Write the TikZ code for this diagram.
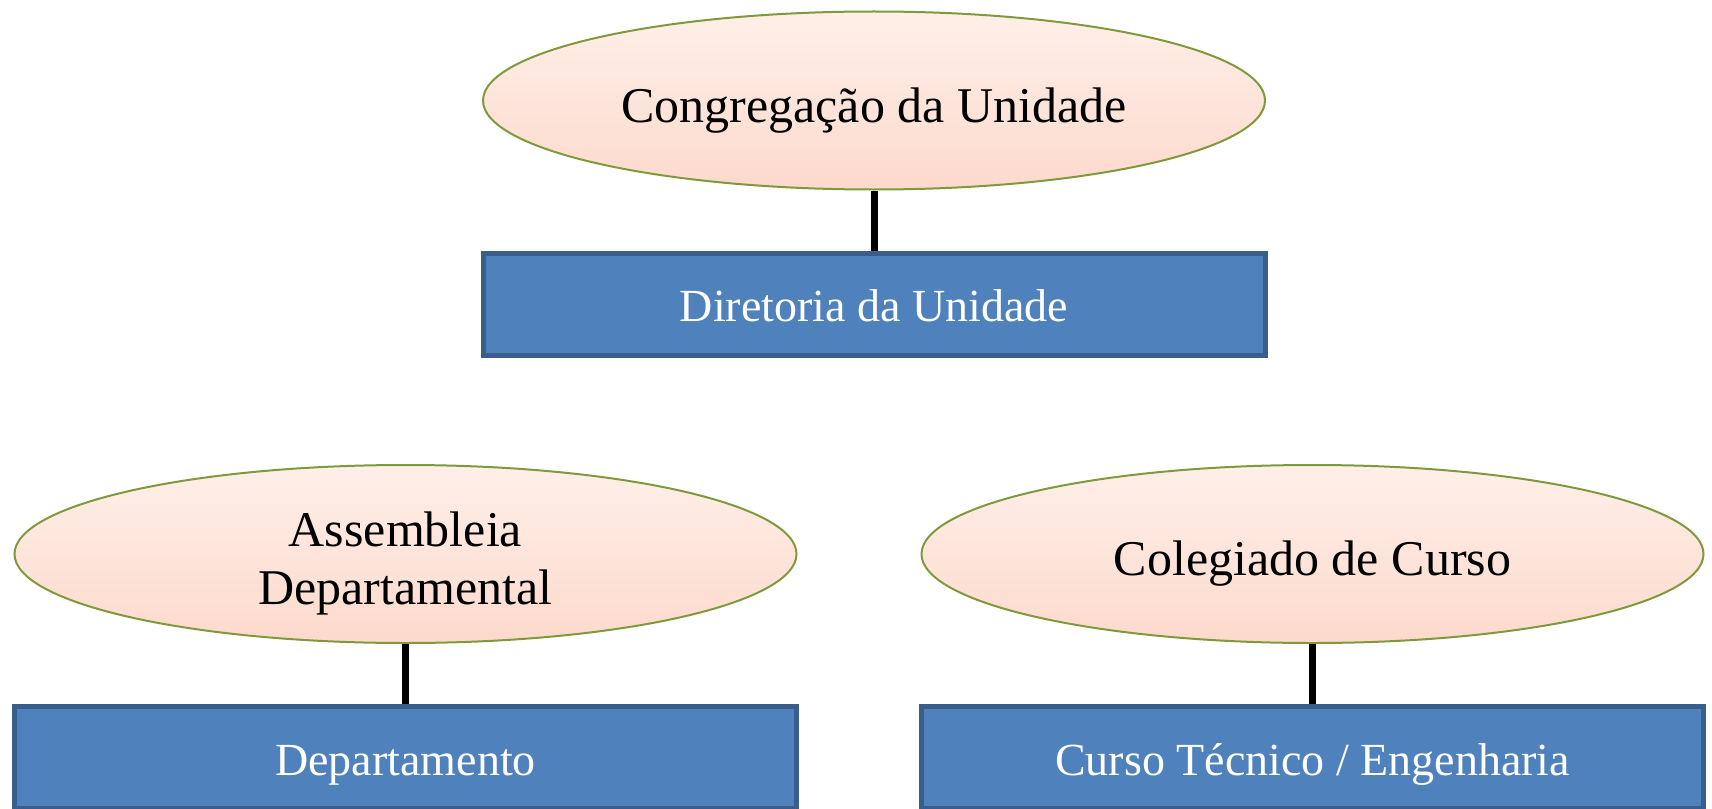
\documentclass[tikz,border=0pt]{standalone}
\usepackage{fontspec}
\setmainfont{Liberation Serif}
\usepackage{tikz}
\usetikzlibrary{shapes.geometric, positioning, calc}
\definecolor{pessego1}{HTML}{FFEFE9}
\definecolor{pessego2}{HTML}{FCDACC}
\definecolor{oliva}{HTML}{7F9A3C}
\definecolor{azul}{HTML}{4F81BD}
\definecolor{azulesc}{HTML}{395E8C}

\begin{document}
\begin{tikzpicture}[x=0.5pt, y=-0.5pt,
        conselho/.style={ellipse, draw=oliva, line width=1pt, top color=pessego1, bottom color=pessego2,
            minimum width=391pt, minimum height=89pt, inner sep=0pt, align=center,
            text height=25pt, text depth=3.5pt, font=\fontsize{25}{29}\selectfont},
        orgao/.style={rectangle, draw=azulesc, line width=2.5pt, fill=azul, text=white,
            minimum width=391pt, minimum height=51pt, inner sep=0pt,
            text height=21pt, text depth=3.5pt, font=\fontsize{23}{27}\selectfont},
        ligacao/.style={line width=3.5pt, black},
        node distance=30pt]
        \useasboundingbox (0,0) rectangle (1712,808);
            % nivel da unidade
            \node[conselho] (congregacao) at (874,100.5) {Congregação da Unidade};
            \node[orgao, below = of congregacao] (diretoria) {Diretoria da Unidade};

            % nivel dos departamentos e cursos
            \node[conselho, text height=54pt] (assembleia) at (405.5,554) {Assembleia\\Departamental};
            \node[orgao, below = of assembleia] (departamento) {Departamento};
            \node[conselho] (colegiado) at (1312.5,554) {Colegiado de Curso};
            \node[orgao, below = of colegiado] (curso) {Curso Técnico / Engenharia};

            \draw[ligacao] (congregacao.south) -- (diretoria.north);
            \draw[ligacao] (assembleia.south) -- (departamento.north);
            \draw[ligacao] (colegiado.south) -- (curso.north);
        \end{tikzpicture}
\end{document}
